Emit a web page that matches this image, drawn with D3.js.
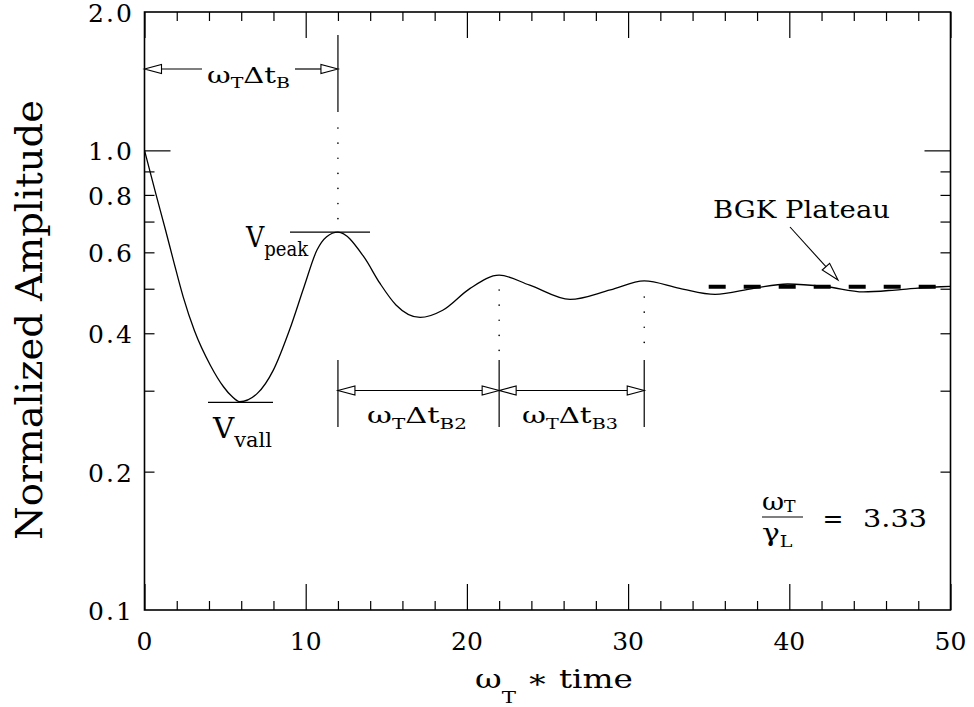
<!DOCTYPE html>
<html><head><meta charset="utf-8">
<script src="https://cdn.jsdelivr.net/npm/d3@7"></script>
<style>
html,body{margin:0;padding:0;background:#fff;}
svg{display:block;}
text{font-family:"DejaVu Serif",serif;fill:#000;}
</style></head><body>
<svg id="chart" width="974" height="707"></svg>
<script>
// ---- data ----
const timeVals = [0, 0.7, 1.3, 1.8, 2.4, 3.1, 4.1, 4.9, 5.4, 5.9, 7.0, 8.0, 9.0, 9.9, 10.7, 11.3, 12.0, 13.6, 14.6, 15.6, 17.1, 18.5, 20.2, 22.0, 23.9, 26.4, 28.9, 31.0, 33.2, 35.4, 37.8, 39.9, 42.3, 44.6, 46.9, 49.4, 50];
const ampVals  = [1.0, 0.805, 0.672, 0.575, 0.480, 0.405, 0.340, 0.306, 0.292, 0.284, 0.296, 0.333, 0.407, 0.505, 0.607, 0.649, 0.664, 0.587, 0.514, 0.461, 0.433, 0.449, 0.501, 0.535, 0.509, 0.474, 0.497, 0.520, 0.501, 0.486, 0.501, 0.512, 0.505, 0.492, 0.498, 0.505, 0.506];
const xMajorTicks = [0, 10, 20, 30, 40, 50];
const xMinorTicks = [2, 4, 6, 8, 12, 14, 16, 18, 22, 24, 26, 28, 32, 34, 36, 38, 42, 44, 46, 48];
const yLabelVals = [0.1, 0.2, 0.4, 0.6, 0.8, 1.0, 2.0];
const yLabelText = ["0.1", "0.2", "0.4", "0.6", "0.8", "1.0", "2.0"];
const yMajorTicks = [1.0];
const yMinorTicks = [0.2, 0.3, 0.4, 0.5, 0.6, 0.7, 0.8, 0.9];
const peakTimes = [12, 22, 31];
const valleyAmp = 0.283, peakAmp = 0.664;
const plateauAmp = 0.505, plateauStart = 35, plateauEnd = 50;

// ---- layout ----
const L = 144.5, R = 950.5, T = 12, B = 610;
const svg = d3.select("#chart");
const x = d3.scaleLinear().domain([0, 50]).range([L, R]);
const y = d3.scaleLog().domain([0.1, 2.0]).range([B, T]);

function styleAxis(g, w) {
  g.select(".domain").remove();
  g.selectAll(".tick line").attr("stroke", "#000").attr("stroke-width", w);
  g.selectAll(".tick text").remove();
}
[[d3.axisBottom, B], [d3.axisTop, T]].forEach(([ax, pos]) => {
  svg.append("g").attr("transform", `translate(0,${pos})`)
    .call(ax(x).tickValues(xMinorTicks).tickSize(-9).tickFormat(""))
    .call(g => styleAxis(g, 1.2));
  svg.append("g").attr("transform", `translate(0,${pos})`)
    .call(ax(x).tickValues(xMajorTicks).tickSize(-26).tickFormat(""))
    .call(g => styleAxis(g, 1.2));
});
[[d3.axisLeft, L], [d3.axisRight, R]].forEach(([ax, pos]) => {
  svg.append("g").attr("transform", `translate(${pos},0)`)
    .call(ax(y).tickValues(yMinorTicks).tickSize(-10).tickFormat(""))
    .call(g => styleAxis(g, 1.2));
  svg.append("g").attr("transform", `translate(${pos},0)`)
    .call(ax(y).tickValues(yMajorTicks).tickSize(-26).tickFormat(""))
    .call(g => styleAxis(g, 1.2));
});

// frame
svg.append("rect").attr("x", x(0)).attr("y", y(2.0))
  .attr("width", x(50) - x(0)).attr("height", y(0.1) - y(2.0))
  .attr("fill", "none").attr("stroke", "#000").attr("stroke-width", 1.6);

// tick labels
svg.append("g").selectAll("text").data(xMajorTicks).join("text")
  .attr("x", d => x(d)).attr("y", B + 40).attr("text-anchor", "middle")
  .attr("font-size", 25).text(d => d);
svg.append("g").selectAll("text").data(yLabelVals).join("text")
  .attr("x", 132).attr("y", d => y(d) + 10).attr("text-anchor", "end")
  .attr("font-size", 25).attr("textLength", 44).attr("lengthAdjust", "spacing")
  .text((d, i) => yLabelText[i]);

// widen glyphs horizontally (plotter-font proportions)
function fitWidth(t, target) {
  const bb = t.node().getBBox();
  const s = target / bb.width;
  const ax = bb.x;
  t.attr("transform", `translate(${ax},0) scale(${s},1) translate(${-ax},0)`);
  return t;
}
function rich(px, py, parts, o) {
  const t = svg.append("text").attr("x", px).attr("y", py)
    .attr("text-anchor", o.anchor || "start");
  let cur = 0;
  parts.forEach(([s, k]) => {
    const target = k === "s" ? o.drop : 0;
    t.append("tspan").attr("dy", target - cur)
      .attr("font-size", k === "s" ? o.sub : o.main).text(s);
    cur = target;
  });
  if (o.len) fitWidth(t, o.len);
  return t;
}

// axis titles
const yt = svg.append("text").attr("x", 0).attr("y", 0)
  .attr("text-anchor", "middle").attr("font-size", 37)
  .text("Normalized Amplitude");
{
  const w = yt.node().getComputedTextLength();
  yt.attr("transform", `translate(42,320) rotate(-90) scale(${440 / w},1)`);
}
rich(475, 688, [["ω", "n"], ["T", "s"], [" ∗ time", "n"]], {main: 26, sub: 17, drop: 15, len: 158});

// curve
const pts = timeVals.map((t, i) => [t, ampVals[i]]);
svg.append("path").datum(pts)
  .attr("d", d3.line().x(d => x(d[0])).y(d => y(d[1])).curve(d3.curveMonotoneX))
  .attr("fill", "none").attr("stroke", "#000").attr("stroke-width", 1.3);

// plateau dashed
svg.append("line").attr("x1", x(plateauStart)).attr("x2", x(plateauEnd))
  .attr("y1", y(plateauAmp)).attr("y2", y(plateauAmp))
  .attr("stroke", "#000").attr("stroke-width", 4).attr("stroke-dasharray", "17,18");

function line(x1, y1, x2, y2, w, dash) {
  const l = svg.append("line").attr("x1", x1).attr("y1", y1).attr("x2", x2).attr("y2", y2)
    .attr("stroke", "#000").attr("stroke-width", w || 1.2);
  if (dash) l.attr("stroke-dasharray", dash).attr("stroke-linecap", "round");
  return l;
}
function head(tx, ty, fx, fy, len, hw) {
  const dx = tx - fx, dy = ty - fy, d = Math.hypot(dx, dy);
  const ux = dx / d, uy = dy / d;
  const bx = tx - ux * len, by = ty - uy * len;
  svg.append("path")
    .attr("d", `M${tx},${ty}L${bx - uy * hw},${by + ux * hw}L${bx + uy * hw},${by - ux * hw}Z`)
    .attr("fill", "#fff").attr("stroke", "#000").attr("stroke-width", 1.1);
  return [bx, by];
}

// peak / valley markers
line(290, y(peakAmp), 370, y(peakAmp), 1.2);
line(208, y(valleyAmp), 273, y(valleyAmp), 1.2);
rich(246, 247, [["V", "n"], ["peak", "s"]], {main: 28, sub: 20, drop: 9, len: 64});
rich(213, 438, [["V", "n"], ["vall", "s"]], {main: 28, sub: 20, drop: 9, len: 60});

// top interval arrow
const xp0 = x(peakTimes[0]), xp1 = x(peakTimes[1]), xp2 = x(peakTimes[2]);
line(xp0, 35, xp0, 112, 1.2);
line(xp0, 128, xp0, 222, 1.6, "0.1,15");
const ya = 69;
head(x(0), ya, x(0) + 20, ya, 17, 4.5);
head(xp0, ya, xp0 - 20, ya, 17, 4.5);
line(x(0) + 17, ya, 202, ya);
line(295, ya, xp0 - 17, ya);
rich(207, 83, [["ω", "n"], ["T", "s"], ["Δt", "n"], ["B", "s"]], {main: 23, sub: 15, drop: 5, len: 83});

// dotted guides at later peaks
line(xp1, 290, xp1, 352, 1.6, "0.1,15");
line(xp2, 297, xp2, 357, 1.6, "0.1,15");

// lower interval arrows
const yb = 390.5;
[xp0, xp1, xp2].forEach(v => line(v, 360, v, 427, 1.2));
head(xp0, yb, xp0 + 20, yb, 17, 4.5);
head(xp1, yb, xp1 - 20, yb, 17, 4.5);
head(xp1, yb, xp1 + 20, yb, 17, 4.5);
head(xp2, yb, xp2 - 20, yb, 17, 4.5);
line(xp0 + 17, yb, xp1 - 17, yb);
line(xp1 + 17, yb, xp2 - 17, yb);
rich(367, 423, [["ω", "n"], ["T", "s"], ["Δt", "n"], ["B2", "s"]], {main: 23, sub: 15, drop: 6, len: 100});
rich(522, 423, [["ω", "n"], ["T", "s"], ["Δt", "n"], ["B3", "s"]], {main: 23, sub: 15, drop: 6, len: 96});

// BGK plateau label + arrow
fitWidth(svg.append("text").attr("x", 713).attr("y", 218).attr("font-size", 25).text("BGK Plateau"), 177);
const [hbx, hby] = head(838, 280, 790, 227, 18, 5);
line(790, 227, hbx, hby, 1.1);

// ratio annotation
rich(762, 510, [["ω", "n"], ["T", "s"]], {main: 25, sub: 16, drop: 2, len: 34});
line(762, 517, 803, 517, 1.2);
rich(762, 541, [["γ", "n"], ["L", "s"]], {main: 25, sub: 16, drop: 6, len: 31});
svg.append("text").attr("x", 833).attr("y", 527).attr("text-anchor", "middle")
  .attr("font-size", 25).text("=");
fitWidth(svg.append("text").attr("x", 863).attr("y", 527).attr("font-size", 25).text("3.33"), 64);
</script>
</body></html>
